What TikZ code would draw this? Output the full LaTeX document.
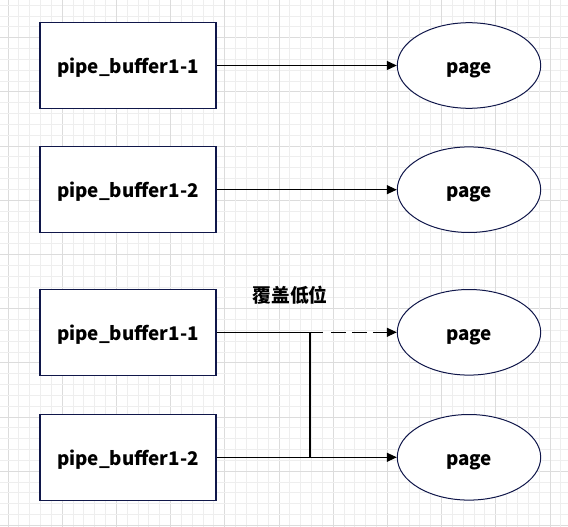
\documentclass[tikz,border=0pt]{standalone}
\usepackage{fontspec}
\newfontfamily\cjk{Noto Sans CJK SC}
\usetikzlibrary{arrows.meta,shapes.geometric}
\definecolor{minorgrid}{HTML}{EEEEEE}
\definecolor{majorgrid}{HTML}{DCDCDC}
\definecolor{edgeblue}{HTML}{10174A}
\newcommand{\lowtxt}[1]{\raisebox{-8pt}[0pt][0pt]{#1}}
\tikzset{
  bufbox/.style={draw=edgeblue,line width=1.2pt,fill=white,minimum width=176pt,minimum height=86pt,inner sep=0pt,font=\cjk\bfseries\fontsize{18.8}{20}\selectfont},
  pageell/.style={draw=edgeblue,line width=1pt,fill=white,ellipse,minimum width=143.4pt,minimum height=85.6pt,inner sep=0pt,font=\cjk\bfseries\fontsize{18.8}{20}\selectfont},
  conn/.style={draw=black,line width=1.2pt},
  arr/.style={conn,-{Triangle[length=10pt,width=9pt]}},
}
\begin{document}
\begin{tikzpicture}[x=1pt,y=-1pt]
\useasboundingbox (0,0) rectangle (568,527);
\fill[white] (0,0) rectangle (568,527);
% grid
\foreach \i in {0,...,53} {
  \pgfmathsetmacro{\xx}{8+10.84*(\i-1)}
  \pgfmathsetmacro{\yy}{37.7+10.84*(\i-5)}
  \pgfmathtruncatemacro{\mx}{mod(\i-1+50,5)}
  \pgfmathtruncatemacro{\my}{mod(\i-5+50,5)}
  \ifnum\mx=0
    \draw[majorgrid,line width=1pt] (\xx,0) -- (\xx,527);
  \else
    \draw[minorgrid,line width=1pt] (\xx,0) -- (\xx,527);
  \fi
  \ifnum\my=0
    \draw[majorgrid,line width=1pt] (0,\yy) -- (568,\yy);
  \else
    \draw[minorgrid,line width=1pt] (0,\yy) -- (568,\yy);
  \fi
}
% boxes
\node[bufbox] (b1) at (128,65.5) {\lowtxt{pipe\_buffer1-1}};
\node[bufbox] (b2) at (128,189.7) {\lowtxt{pipe\_buffer1-2}};
\node[bufbox] (b3) at (128,332.3) {\lowtxt{pipe\_buffer1-1}};
\node[bufbox] (b4) at (128,457.3) {\lowtxt{pipe\_buffer1-2}};
% ellipses
\node[pageell] (p1) at (469,65.5) {\lowtxt{page}};
\node[pageell] (p2) at (469,189.7) {\lowtxt{page}};
\node[pageell] (p3) at (469,332.3) {\lowtxt{page}};
\node[pageell] (p4) at (469,457.3) {\lowtxt{page}};
% label
\node[font=\cjk\bfseries\fontsize{18.8}{20}\selectfont,inner sep=0pt] (lbl) at (290,295) {覆盖低位};
% connectors
\draw[arr] (b1.east) -- (p1.west);
\draw[arr] (b2.east) -- (p2.west);
\draw[arr] (b4.east) -- (p4.west);
\coordinate (s3) at (323.3,332.3);
\coordinate (d3) at (331,332.3);
\coordinate (v1) at (310,332.3);
\coordinate (v2) at (310,457.3);
\draw[conn] (b3.east) -- (s3);
\draw[arr,dash pattern=on 15pt off 6pt] (d3) -- (p3.west);
\draw[conn] (v1) -- (v2);
\end{tikzpicture}
\end{document}
